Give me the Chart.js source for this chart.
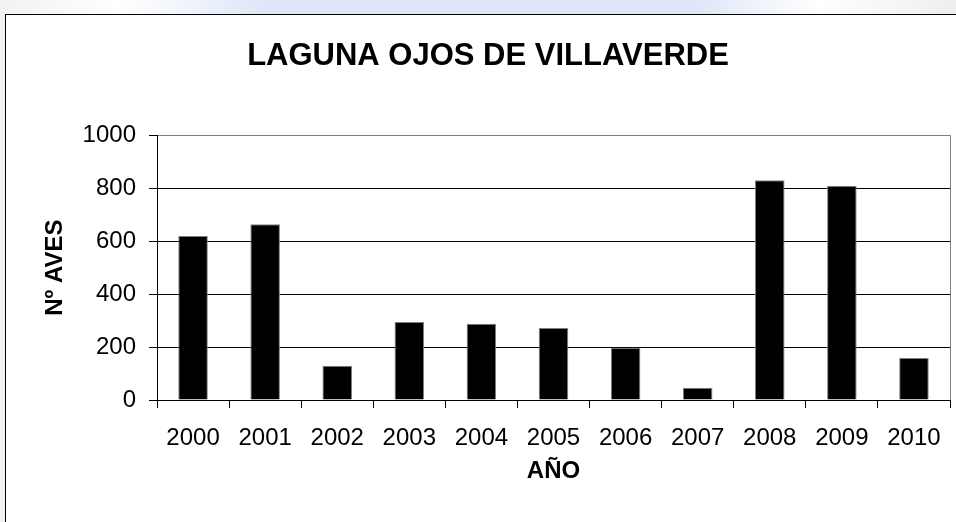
<!DOCTYPE html>
<html>
<head>
<meta charset="utf-8">
<script src="https://cdn.jsdelivr.net/npm/chart.js@4"></script>
<style>
  html, body { margin: 0; padding: 0; width: 956px; height: 522px; overflow: hidden;
    background: linear-gradient(90deg, #f2f2f2 0px, #ffffff 120px, #dfe8f8 260px, #dfe8f8 700px, #ffffff 820px, #eeeeee 956px); }
  #frame { position: absolute; left: 5px; top: 14px; width: 964px; height: 520px;
    border: 1px solid #000; background: #fff; }
  #c { display: block; }
</style>
</head>
<body>
<div id="frame"><canvas id="c" width="964" height="508"></canvas></div>
<script>
const chartTitle = "LAGUNA OJOS DE VILLAVERDE";
const xAxisTitle = "AÑO";
const yAxisTitle = "Nº AVES";
const years = ["2000","2001","2002","2003","2004","2005","2006","2007","2008","2009","2010"];
const birds = [619, 664, 129, 295, 288, 272, 197, 46, 830, 809, 159];
const yTicks = [0, 200, 400, 600, 800, 1000];

const FONT = "'Liberation Sans', Arial, Helvetica, sans-serif";

const plotBorder = {
  id: 'plotBorder',
  afterDatasetsDraw(chart) {
    const {ctx, chartArea: a} = chart;
    ctx.save();
    ctx.strokeStyle = '#808080';
    ctx.lineWidth = 1;
    ctx.beginPath();
    ctx.moveTo(Math.round(a.right) + 0.5, a.top);
    ctx.lineTo(Math.round(a.right) + 0.5, a.bottom);
    ctx.stroke();
    ctx.restore();
  }
};

new Chart(document.getElementById('c'), {
  type: 'bar',
  data: {
    labels: years,
    datasets: [{
      data: birds,
      backgroundColor: '#000000',
      borderColor: '#808080',
      borderWidth: 1,
      categoryPercentage: 1.0,
      barPercentage: 0.41
    }]
  },
  options: {
    responsive: false,
    animation: false,
    devicePixelRatio: 1,
    layout: { padding: { left: 0, right: 0, top: 0, bottom: 0 } },
    plugins: {
      legend: { display: false },
      tooltip: { enabled: false },
      title: {
        display: true,
        text: chartTitle,
        color: '#000',
        font: { family: FONT, size: 31, weight: 'bold', lineHeight: 1.2 },
        padding: { top: 23, bottom: 60 }
      }
    },
    scales: {
      x: {
        grid: { display: true, drawOnChartArea: false, drawTicks: true, tickLength: 8, color: '#000', offset: true },
        border: { display: true, color: '#000', width: 1 },
        ticks: { color: '#000', font: { family: FONT, size: 24 }, padding: 16, maxRotation: 0, autoSkip: false },
        title: { display: true, text: xAxisTitle, color: '#000',
          font: { family: FONT, size: 24, weight: 'bold', lineHeight: 1.2 },
          padding: { top: 0, bottom: 37 } },
        afterFit(scale) { scale.height = 123; }
      },
      y: {
        min: 0, max: 1000,
        afterBuildTicks(scale) { scale.ticks = yTicks.map(v => ({ value: v })); },
        grid: {
          drawTicks: true, tickLength: 8,
          color: ctx => (ctx.tick && ctx.tick.value === 1000) ? '#808080' : '#000',
          tickColor: '#000'
        },
        border: { display: true, color: '#000', width: 1 },
        ticks: { color: '#000', font: { family: FONT, size: 24 }, padding: 13,
          callback: v => String(v) },
        title: { display: true, text: yAxisTitle, color: '#000',
          font: { family: FONT, size: 24, weight: 'bold', lineHeight: 1.2 },
          padding: { top: 35, bottom: 0 } },
        afterFit(scale) { scale.width = 151; }
      },
      y2: {
        position: 'right',
        display: true,
        grid: { display: false },
        border: { display: false },
        ticks: { display: false },
        afterFit(scale) { scale.width = 20; }
      }
    }
  },
  plugins: [plotBorder]
});
</script>
</body>
</html>
